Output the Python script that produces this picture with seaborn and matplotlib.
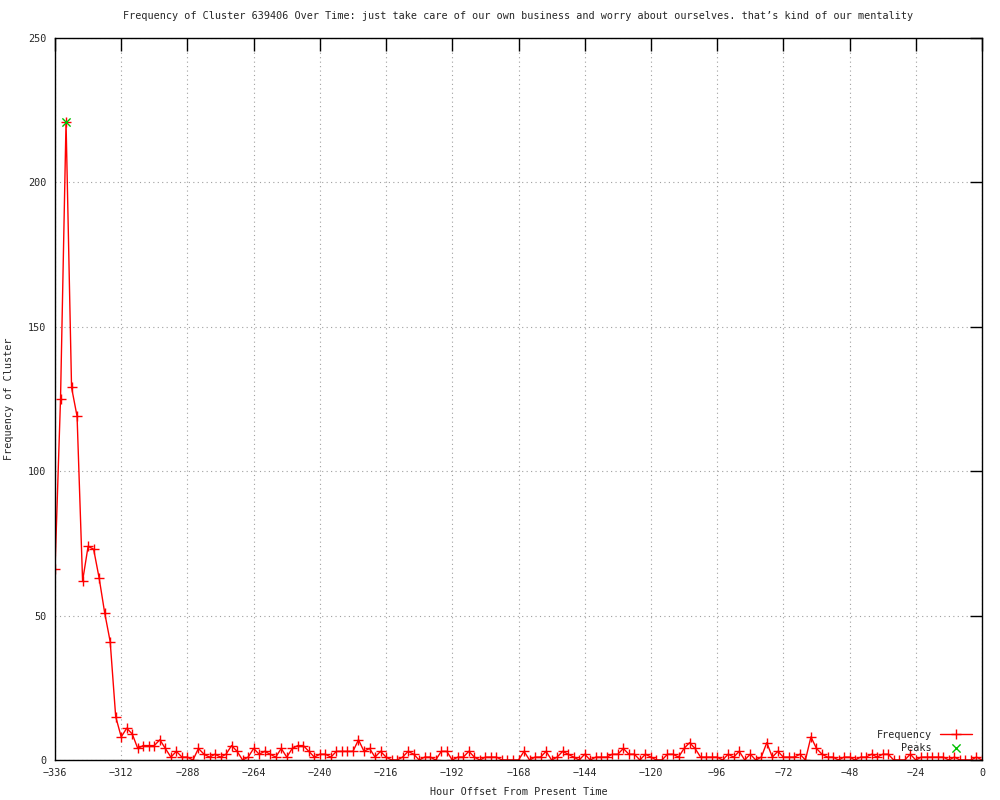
import numpy as np
import pandas as pd
import matplotlib
matplotlib.use("Agg")
import matplotlib.pyplot as plt
import seaborn as sns

# hourly offsets, sampled every 2 hours
hours = list(range(-336, 1, 2))
freq = [
    66, 125, 221, 129, 119, 62, 74, 73, 63, 51, 41, 15, 8,
    11, 9, 4, 5, 5, 5, 7, 4, 1, 3, 1, 1,
    0, 4, 2, 1, 2, 1, 2, 5, 3, 0, 1, 4,
    2, 3, 2, 1, 4, 1, 4, 5, 5, 3, 1, 2,
    2, 1, 3, 3, 3, 3, 7, 3, 4, 1, 3, 1,
    0, 0, 1, 3, 2, 0, 1, 1, 0, 3, 3, 0,
    1, 1, 3, 1, 0, 1, 1, 1, 0, 0, 0, 0,
    3, 0, 1, 1, 3, 0, 1, 3, 2, 1, 0, 2,
    0, 1, 1, 1, 2, 2, 4, 2, 2, 0, 2, 1,
    0, 0, 2, 2, 1, 4, 6, 4, 1, 1, 1, 1,
    0, 2, 1, 3, 0, 2, 0, 1, 6, 1, 3, 1,
    1, 1, 2, 0, 8, 4, 2, 1, 1, 0, 1, 1,
    0, 1, 1, 2, 1, 2, 2, 0, 0, 0, 2, 0,
    1, 1, 1, 1, 1, 0, 1, 0, 0, 0, 1, 0,
]
peak_hours = [-332]
peak_freq = [221]
x_ticks = list(range(-336, 1, 24))
y_ticks = [0, 50, 100, 150, 200, 250]

title = ("Frequency of Cluster 639406 Over Time: just take care of our own business "
         "and worry about ourselves. that\u2019s kind of our mentality")

df = pd.DataFrame({"hour": hours, "freq": freq})

sns.set_style("white")
plt.rcParams['font.family'] = ['DejaVu Sans Mono']
fs = 7.3

fig = plt.figure(figsize=(10, 8), dpi=100)
ax = fig.add_axes([0.055, 0.05, 0.927, 0.9025])

sns.lineplot(data=df, x="hour", y="freq", color="red", marker="+", markersize=7,
             markeredgewidth=1, markeredgecolor="red", linewidth=1, ax=ax,
             label="Frequency")
sns.scatterplot(x=peak_hours, y=peak_freq, marker="x", color="#00c000", s=35,
                linewidth=1, ax=ax, label="Peaks", zorder=5)

ax.set_xlim(-336, 0)
ax.set_ylim(0, 250)
ax.set_xticks(x_ticks)
ax.set_yticks(y_ticks)
ax.grid(True, color="#a0a0a0", linestyle=(0, (1, 3)), linewidth=0.8)
ax.tick_params(direction="in", length=9, width=1, color="black", top=True, right=True,
               labeltop=False, labelright=False, labelsize=fs, pad=6)
for s in ax.spines.values():
    s.set_color("black")
    s.set_linewidth(1)

ax.set_xlabel("Hour Offset From Present Time", fontsize=fs, labelpad=6)
ax.set_ylabel("Frequency of Cluster", fontsize=fs, labelpad=10)
ax.set_title(title, fontsize=fs, pad=14)

ax.legend(loc="lower right", bbox_to_anchor=(0.997, 0.0), frameon=False,
          markerfirst=False, fontsize=fs, handlelength=3.2, labelspacing=0.3,
          borderaxespad=0.3)

fig.savefig("out.png", dpi=100)
